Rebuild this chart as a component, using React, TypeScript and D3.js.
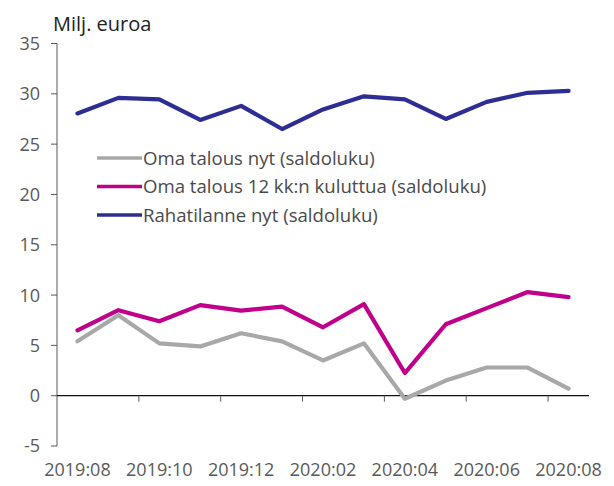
import React from "react";
import * as d3 from "d3";

const months = ["2019:08","2019:09","2019:10","2019:11","2019:12","2020:01","2020:02","2020:03","2020:04","2020:05","2020:06","2020:07","2020:08"];
const omaTalousNyt = [5.4, 8.0, 5.2, 4.9, 6.2, 5.4, 3.5, 5.2, -0.3, 1.5, 2.8, 2.8, 0.7];
const omaTalous12 = [6.5, 8.5, 7.4, 9.0, 8.45, 8.85, 6.8, 9.1, 2.25, 7.1, 8.7, 10.3, 9.8];
const rahatilanne = [28.05, 29.6, 29.45, 27.4, 28.8, 26.5, 28.45, 29.75, 29.45, 27.5, 29.2, 30.1, 30.3];
const yTicks = [-5, 0, 5, 10, 15, 20, 25, 30, 35];
const xTickLabels = ["2019:08","2019:10","2019:12","2020:02","2020:04","2020:06","2020:08"];
const seriesNames = ["Oma talous nyt (saldoluku)", "Oma talous 12 kk:n kuluttua (saldoluku)", "Rahatilanne nyt (saldoluku)"];
const seriesColors = ["#A8A8A8", "#C0008A", "#2D2E93"];

const FONT = "'Open Sans', Lato, sans-serif";

export default function App() {
  const W = 614, H = 486;
  const x = d3.scaleBand<string>().domain(months).range([57, 589]).paddingInner(0).paddingOuter(0);
  const y = d3.scaleLinear().domain([-5, 35]).range([446, 43.5]);
  const cx = (m: string) => (x(m) as number) + x.bandwidth() / 2;
  const line = d3.line<number>().x((_, i) => cx(months[i])).y((v) => y(v));
  const series = [omaTalousNyt, omaTalous12, rahatilanne];

  return (
    <svg width={W} height={H} style={{ position: "absolute", left: 0, top: 0, background: "#fff" }}>
      <text x={53} y={31} fontFamily={FONT} fontSize={20} fill="#222">Milj. euroa</text>
      {/* y axis */}
      <line x1={57} x2={57} y1={y(35)} y2={y(-5)} stroke="#595959" strokeWidth={1} />
      {yTicks.map((t) => (
        <g key={t}>
          <line x1={51} x2={57} y1={y(t)} y2={y(t)} stroke="#595959" strokeWidth={1} />
          <text x={40} y={y(t)} dy="0.36em" textAnchor="end" fontFamily={FONT} fontSize={18} fill="#595959">{t}</text>
        </g>
      ))}
      {/* x axis */}
      <line x1={57} x2={589} y1={y(0)} y2={y(0)} stroke="#111" strokeWidth={1.2} />
      {months.map((m, i) => i % 2 === 0 && i > 0 ? (
        <line key={m} x1={x(m) as number} x2={x(m) as number} y1={y(0)} y2={y(0) + 6} stroke="#595959" strokeWidth={1} />
      ) : null)}
      {xTickLabels.map((m) => (
        <text key={m} x={cx(m)} y={476} textAnchor="middle" fontFamily={FONT} fontSize={18} fill="#595959">{m}</text>
      ))}
      {/* series */}
      {series.map((s, k) => (
        <path key={k} d={line(s) as string} fill="none" stroke={seriesColors[k]} strokeWidth={4.2} strokeLinejoin="round" strokeLinecap="round" />
      ))}
      {/* legend */}
      {seriesNames.map((n, k) => (
        <g key={n} transform={`translate(97, ${158 + k * 28.5})`}>
          <line x1={0} x2={45} y1={0} y2={0} stroke={seriesColors[k]} strokeWidth={3.5} />
          <text x={46} y={0} dy="0.36em" fontFamily={FONT} fontSize={18.6} fill="#4a4a4a">{n}</text>
        </g>
      ))}
    </svg>
  );
}
